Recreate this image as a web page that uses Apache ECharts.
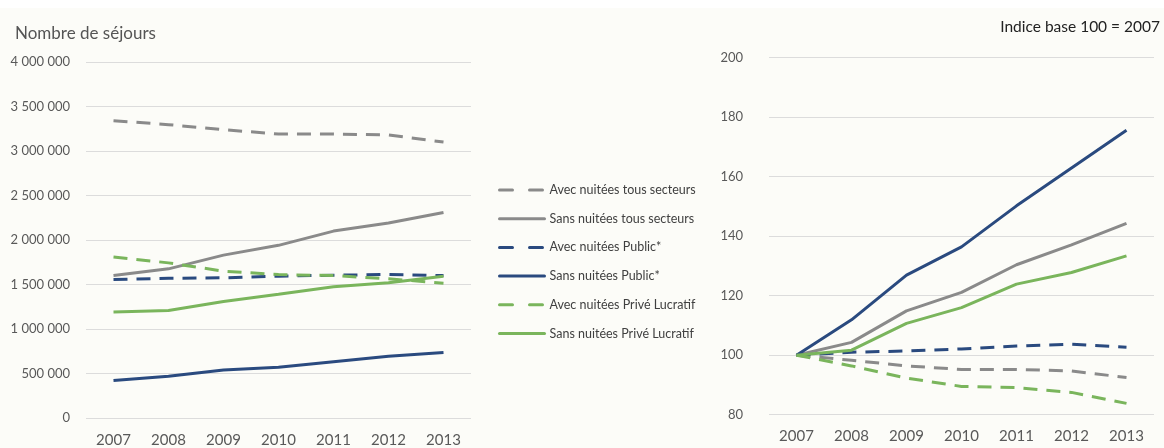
<!DOCTYPE html>
<html>
<head>
<meta charset="utf-8">
<script src="https://cdn.jsdelivr.net/npm/echarts@6/dist/echarts.min.js"></script>
<style>
  html, body { margin: 0; padding: 0; background: #fcfcf8; }
  #main { width: 1164px; height: 448px; }
</style>
</head>
<body>
<div id="main"></div>
<script>
// années
var years = ["2007", "2008", "2009", "2010", "2011", "2012", "2013"];

// nombre de séjours (graphique de gauche)
var avecTous = [3341000, 3296000, 3240000, 3190000, 3190000, 3180000, 3100000];
var sansTous = [1600000, 1676000, 1830000, 1940000, 2100000, 2190000, 2310000];
var avecPublic = [1556000, 1570000, 1575000, 1594000, 1605000, 1612000, 1600000];
var sansPublic = [420000, 469000, 540000, 570000, 633000, 693000, 735000];
var avecPrive = [1810000, 1743000, 1650000, 1612000, 1600000, 1564000, 1515000];
var sansPrive = [1190000, 1207000, 1310000, 1390000, 1475000, 1520000, 1592000];

// indice base 100 = 2007 (graphique de droite)
var idxAvecTous = [100, 98.3, 96.4, 95.2, 95.2, 94.7, 92.5];
var idxSansTous = [100, 104.3, 114.9, 121.1, 130.4, 137.1, 144.3];
var idxAvecPublic = [100, 101, 101.4, 102.1, 103.1, 103.7, 102.7];
var idxSansPublic = [100, 111.9, 126.9, 136.4, 150.2, 162.9, 175.6];
var idxAvecPrive = [100, 96.4, 92.3, 89.5, 89.1, 87.5, 83.8];
var idxSansPrive = [100, 101.7, 110.7, 116, 123.9, 127.8, 133.4];

var noms = [
  "Avec nuitées tous secteurs",
  "Sans nuitées tous secteurs",
  "Avec nuitées Public*",
  "Sans nuitées Public*",
  "Avec nuitées Privé Lucratif",
  "Sans nuitées Privé Lucratif"
];

var GRIS = "#8a8a8a", BLEU = "#2a4a7f", VERT = "#7ab55c";
var FONT = "Lato, 'Open Sans', sans-serif";

function ligne(nom, data, couleur, pointille, idx) {
  return {
    name: nom,
    type: "line",
    xAxisIndex: idx,
    yAxisIndex: idx,
    data: data,
    symbol: "none",
    lineStyle: { color: couleur, width: 3, type: pointille ? [14, 9] : "solid" },
    itemStyle: { color: couleur }
  };
}

function espaces(v) {
  return String(v).replace(/\B(?=(\d{3})+(?!\d))/g, " ");
}

var myChart = echarts.init(document.getElementById("main"));

var option = {
  backgroundColor: "#fcfcf8",
  animation: false,
  textStyle: { fontFamily: FONT },
  // bande blanche en haut de l'image
  graphic: [{
    type: "rect", left: 0, top: 0, z: -1,
    shape: { width: 1164, height: 8 },
    style: { fill: "#ffffff" }
  }],
  title: [
    {
      text: "Nombre de séjours",
      left: 10, top: 20,
      textStyle: { fontSize: 17, fontWeight: "normal", color: "#555555", fontFamily: FONT }
    },
    {
      text: "Indice base 100 = 2007",
      right: -1, top: 14,
      textStyle: { fontSize: 15.5, fontWeight: "normal", color: "#222", fontFamily: FONT }
    }
  ],
  legend: {
    orient: "vertical",
    left: 493, top: 178,
    itemWidth: 45, itemHeight: 14, itemGap: 14.7,
    itemStyle: { opacity: 0 },
    data: noms.map(function (n, i) {
      return { name: n, lineStyle: { width: 3, cap: "round", type: i % 2 === 0 ? [13, 17] : "solid" } };
    }),
    textStyle: { fontSize: 12.5, color: "#404040", lineHeight: 14, fontFamily: FONT }
  },
  grid: [
    { left: 86, top: 62, width: 385, height: 358 },
    { left: 769, top: 57.7, width: 385, height: 357 }
  ],
  xAxis: [0, 1].map(function (i) {
    return {
      type: "category", gridIndex: i, data: years, boundaryGap: true,
      axisLine: { show: false }, axisTick: { show: false },
      axisLabel: { color: "#595959", fontSize: 15, margin: i === 0 ? 15 : 14, fontFamily: FONT }
    };
  }),
  yAxis: [
    {
      type: "value", gridIndex: 0, min: 0, max: 4000000, interval: 500000,
      axisLine: { show: false }, axisTick: { show: false },
      splitLine: { lineStyle: { color: "#dcdcdc", width: 1 } },
      axisLabel: { color: "#595959", fontSize: 13, margin: 16, formatter: espaces, fontFamily: FONT }
    },
    {
      type: "value", gridIndex: 1, min: 80, max: 200, interval: 20,
      axisLine: { show: false }, axisTick: { show: false },
      splitLine: { lineStyle: { color: "#dcdcdc", width: 1 } },
      axisLabel: { color: "#595959", fontSize: 13, margin: 26, fontFamily: FONT }
    }
  ],
  series: [
    ligne(noms[0], avecTous, GRIS, true, 0),
    ligne(noms[1], sansTous, GRIS, false, 0),
    ligne(noms[2], avecPublic, BLEU, true, 0),
    ligne(noms[3], sansPublic, BLEU, false, 0),
    ligne(noms[4], avecPrive, VERT, true, 0),
    ligne(noms[5], sansPrive, VERT, false, 0),
    ligne(noms[0], idxAvecTous, GRIS, true, 1),
    ligne(noms[1], idxSansTous, GRIS, false, 1),
    ligne(noms[2], idxAvecPublic, BLEU, true, 1),
    ligne(noms[3], idxSansPublic, BLEU, false, 1),
    ligne(noms[4], idxAvecPrive, VERT, true, 1),
    ligne(noms[5], idxSansPrive, VERT, false, 1)
  ]
};

myChart.setOption(option);
</script>
</body>
</html>
